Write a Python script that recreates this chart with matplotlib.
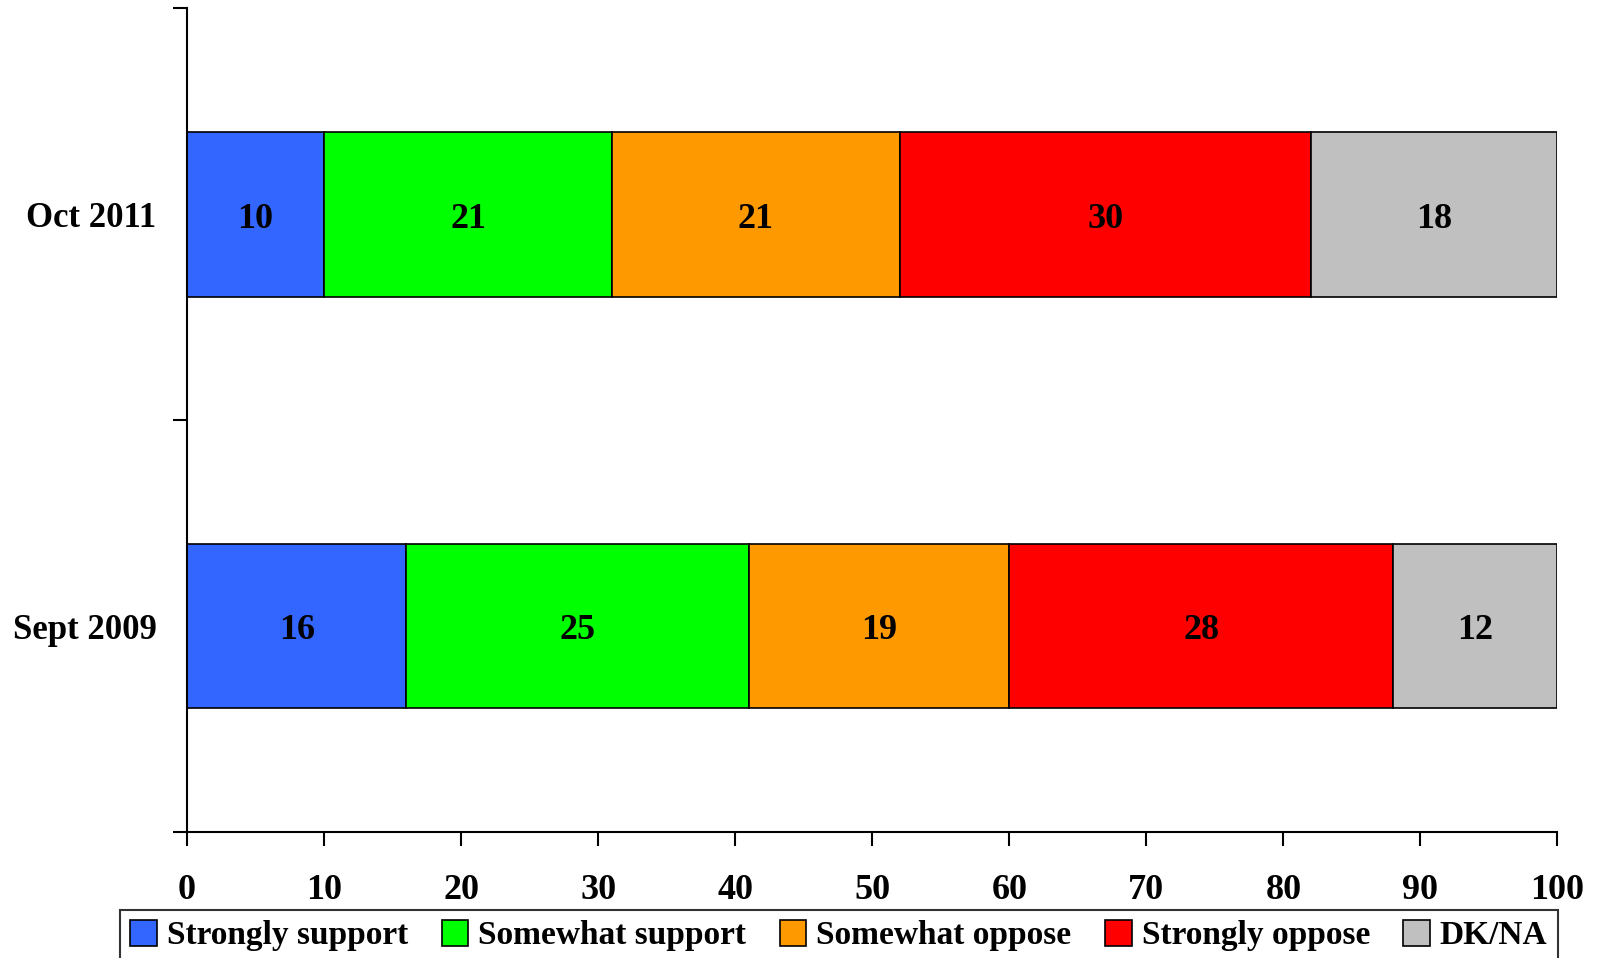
import matplotlib.pyplot as plt
import numpy as np

# Survey waves, bottom to top
waves = ['Sept 2009', 'Oct 2011']

# Response shares per wave (percent)
strongly_support = [16, 10]
somewhat_support = [25, 21]
somewhat_oppose = [19, 21]
strongly_oppose = [28, 30]
dk_na = [12, 18]

series_names = ['Strongly support', 'Somewhat support', 'Somewhat oppose',
                'Strongly oppose', 'DK/NA']
colors = ['#3366FF', '#00FF00', '#FF9900', '#FF0000', '#C0C0C0']
x_ticks = [0, 10, 20, 30, 40, 50, 60, 70, 80, 90, 100]

plt.rcParams['font.family'] = ['Liberation Serif', 'DejaVu Serif']
plt.rcParams['font.weight'] = 'bold'

fig = plt.figure(figsize=(15.99, 9.58), dpi=100)
ax = fig.add_axes([0.117, 0.1315, 0.857, 0.860])

y = np.arange(len(waves))
left = np.zeros(len(waves))
all_series = [strongly_support, somewhat_support, somewhat_oppose, strongly_oppose, dk_na]
for name, vals, col in zip(series_names, all_series, colors):
    vals = np.array(vals, dtype=float)
    bars = ax.barh(y, vals, left=left, height=0.4, color=col,
                   edgecolor='black', linewidth=1.2, label=name)
    for b, v in zip(bars, vals):
        ax.text(b.get_x() + b.get_width() / 2, b.get_y() + b.get_height() / 2 - 0.012,
                f'{int(v)}', ha='center', va='center', fontsize=26,
                fontweight='bold', color='black')
    left += vals

ax.set_xlim(0, 100)
ax.set_ylim(-0.5, 1.5)
ax.set_xticks(x_ticks)
ax.set_xticklabels([str(t) for t in x_ticks], fontsize=26, fontweight='bold')
ax.set_yticks(y)
ax.set_yticklabels(waves, fontsize=25, fontweight='bold')
ax.tick_params(axis='y', which='major', length=0, pad=22)
ax.set_yticks([-0.5, 0.5, 1.5], minor=True)
ax.tick_params(axis='y', which='minor', length=10, width=1.5, direction='out')
ax.tick_params(axis='x', length=10, width=1.5, direction='out', pad=20)

for s in ['top', 'right']:
    ax.spines[s].set_visible(False)
for s in ['left', 'bottom']:
    ax.spines[s].set_linewidth(1.5)

leg = fig.legend(loc='upper center', bbox_to_anchor=(0.5247, 0.050), ncol=5,
                 fontsize=24, frameon=True, fancybox=False, edgecolor='black',
                 handlelength=0.8, handleheight=0.8, handletextpad=0.3,
                 columnspacing=1.0, borderpad=0.3, borderaxespad=0)
leg.get_frame().set_linewidth(1.5)
for t in leg.get_texts():
    t.set_fontweight('bold')

fig.savefig('out.png', dpi=100)
